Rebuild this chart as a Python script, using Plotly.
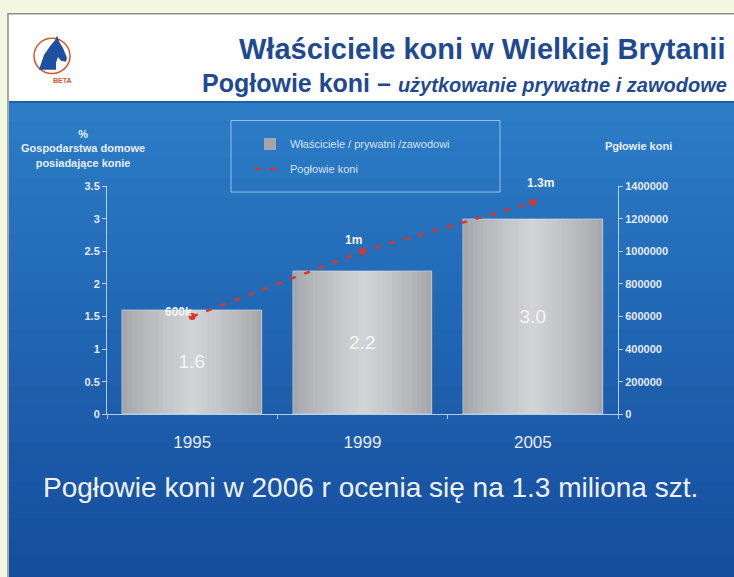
import plotly.graph_objects as go

# ---- data ----
years = ["1995", "1999", "2005"]
owners_pct = [1.6, 2.2, 3.0]
horses = [600000, 1000000, 1300000]
horse_labels = ["600k", "1m", "1.3m"]
left_ticks = [0, 0.5, 1, 1.5, 2, 2.5, 3, 3.5]
right_ticks = [0, 200000, 400000, 600000, 800000, 1000000, 1200000, 1400000]

W, H = 734, 577
def px(x): return x / W
def py(y): return 1 - y / H

FONT = "Liberation Sans, Arial, sans-serif"
NARROW = "Liberation Sans Narrow, Liberation Sans, Arial, sans-serif"

fig = go.Figure()

# bars (layered to imitate metallic gradient)
n_layers = 14
edge = (164, 166, 170)
mid = (210, 211, 214)
for i in range(n_layers):
    t = i / (n_layers - 1)
    w = 0.82 - (0.82 - 0.05) * t
    c = tuple(int(round(edge[j] + (mid[j] - edge[j]) * (t ** 0.8))) for j in range(3))
    fig.add_trace(go.Bar(
        x=years, y=owners_pct, width=w,
        marker=dict(color="rgb(%d,%d,%d)" % c, line=dict(width=0)),
        name="Właściciele / prywatni /zawodowi", showlegend=(i == 0), legendgroup="a",
        hoverinfo="skip"))
fig.add_trace(go.Bar(
    x=years, y=owners_pct, width=0.82, marker=dict(color="rgba(0,0,0,0)"),
    text=[f"{v:.1f}" for v in owners_pct], textposition="inside",
    insidetextanchor="middle", textfont=dict(color="#f4f6f8", size=19, family=FONT),
    showlegend=False, hoverinfo="skip"))

# horse population line
fig.add_trace(go.Scatter(
    x=years, y=horses, yaxis="y2", mode="lines",
    line=dict(color="#d8362c", width=2.5, dash="6px,9px"),
    name="Pogłowie koni", legendgroup="b"))
fig.add_trace(go.Scatter(
    x=years, y=horses, yaxis="y2", mode="markers",
    marker=dict(color="#d8362c", size=7), showlegend=False))

# ---- background shapes ----
shapes = []
shapes.append(dict(type="rect", xref="paper", yref="paper", x0=px(8), x1=px(760), y0=py(640), y1=py(8),
                   fillcolor="#ffffff", line=dict(color="#8c8c8c", width=1.5), layer="below"))
top, bot = 98, 640
n = 28
c0 = (44, 124, 198)
c1 = (18, 72, 152)
for k in range(n):
    t = k / (n - 1)
    col = tuple(int(round(c0[j] + (c1[j] - c0[j]) * t)) for j in range(3))
    y0 = top + (bot - top) * k / n
    y1 = top + (bot - top) * (k + 1) / n + 1
    shapes.append(dict(type="rect", xref="paper", yref="paper", x0=px(9), x1=px(760), y0=py(y1), y1=py(y0),
                       fillcolor="rgb(%d,%d,%d)" % col, line=dict(width=0), layer="below"))
shapes.append(dict(type="line", xref="paper", yref="paper", x0=px(9), x1=px(760), y0=py(98), y1=py(98),
                   line=dict(color="#1f5fa8", width=2), layer="below"))
# legend frame
shapes.append(dict(type="rect", xref="paper", yref="paper", x0=px(231), x1=px(500), y0=py(190), y1=py(117),
                   fillcolor="rgba(0,0,0,0)", line=dict(color="rgba(190,215,240,0.75)", width=1), layer="below"))
# logo
shapes.append(dict(type="circle", xref="paper", yref="paper", x0=px(34), x1=px(70), y0=py(69), y1=py(33),
                   line=dict(color="#d9552e", width=1.5), layer="above"))
horse = [(39, 65), (44, 50), (50, 41), (55, 35), (57, 30), (59, 36), (63, 43), (67, 53), (66, 57), (61, 56),
         (58, 52), (56, 58), (56, 65)]
path = "M " + " L ".join(f"{px(x):.4f},{py(y):.4f}" for x, y in horse) + " Z"
shapes.append(dict(type="path", xref="paper", yref="paper", path=path,
                   fillcolor="#1f4fa0", line=dict(width=0), layer="above"))

annotations = [
    dict(text="<b>Właściciele koni w Wielkiej Brytanii</b>", x=px(727), y=py(44), xref="paper", yref="paper",
         xanchor="right", yanchor="middle", showarrow=False,
         font=dict(family=FONT, size=29, color="#1f4a92")),
    dict(text="<b>Pogłowie koni – <i><span style='font-size:20px'>użytkowanie prywatne i zawodowe</span></i></b>",
         x=px(729), y=py(79), xref="paper", yref="paper", xanchor="right", yanchor="middle", showarrow=False,
         font=dict(family=FONT, size=25, color="#1f4a92")),
    dict(text="<b>BETA</b>", x=px(52), y=py(71), xref="paper", yref="paper", showarrow=False,
         font=dict(family=FONT, size=7, color="#d9552e"), bgcolor="#ffffff", borderpad=0),
    dict(text="<b>%<br>Gospodarstwa domowe<br>posiadające konie</b>", x=px(83), y=py(146), xref="paper",
         yref="paper", xanchor="center", yanchor="middle", showarrow=False,
         font=dict(family=FONT, size=11, color="#e6eef7")),
    dict(text="<b>Pgłowie koni</b>", x=px(638), y=py(143), xref="paper", yref="paper",
         xanchor="center", yanchor="middle", showarrow=False,
         font=dict(family=FONT, size=11, color="#e6eef7")),
    dict(text="Pogłowie koni w 2006 r ocenia się na 1.3 miliona szt.", x=px(370), y=py(492),
         xref="paper", yref="paper", xanchor="center", yanchor="middle", showarrow=False,
         font=dict(family=FONT, size=28, color="#eef2f7")),
]
# value labels of the horse line (x given as category index)
lab_xshift = [-14, -9, 8]
lab_yshift = [5, 11, 19]
for i, (v, lab, dx, dy) in enumerate(zip(horses, horse_labels, lab_xshift, lab_yshift)):
    annotations.append(dict(text="<b>%s</b>" % lab, x=i, y=v, xref="x", yref="y2", showarrow=False,
                            xshift=dx, yshift=dy, font=dict(family=FONT, size=12, color="#f2f4f8")))

axis_line = "rgba(205,225,245,0.85)"
tick_font = dict(family=FONT, size=11, color="#e4ebf3", weight="bold")
fig.update_layout(
    width=W, height=H, margin=dict(l=0, r=0, t=0, b=0),
    paper_bgcolor="#f3f6e1", plot_bgcolor="rgba(0,0,0,0)",
    barmode="overlay", bargap=0,
    shapes=shapes, annotations=annotations,
    xaxis=dict(domain=[px(107), px(618)], type="category", range=[-0.5, 2.5],
               showline=True, linecolor=axis_line, linewidth=1,
               ticks="outside", tickson="boundaries", ticklen=4, tickcolor=axis_line,
               tickfont=dict(family=NARROW, size=17, color="#e4ebf3"), ticklabelstandoff=12,
               showgrid=False, zeroline=False),
    yaxis=dict(domain=[py(417), py(184)], range=[0, 3.5], tickvals=left_ticks,
               showline=True, linecolor=axis_line, linewidth=1,
               ticks="outside", ticklen=4, tickcolor=axis_line, tickfont=tick_font,
               showgrid=False, zeroline=False),
    yaxis2=dict(overlaying="y", side="right", range=[0, 1400000], tickvals=right_ticks, tickformat="d",
                showline=True, linecolor=axis_line, linewidth=1, anchor="x",
                ticks="outside", ticklen=4, tickcolor=axis_line, tickfont=tick_font,
                showgrid=False, zeroline=False),
    legend=dict(x=px(250), y=py(126), xanchor="left", yanchor="top", bgcolor="rgba(0,0,0,0)",
                borderwidth=0, font=dict(family=FONT, size=11, color="#d6e2ef"),
                itemwidth=30, tracegroupgap=6, traceorder="grouped"),
)

fig.write_html("out.html")
